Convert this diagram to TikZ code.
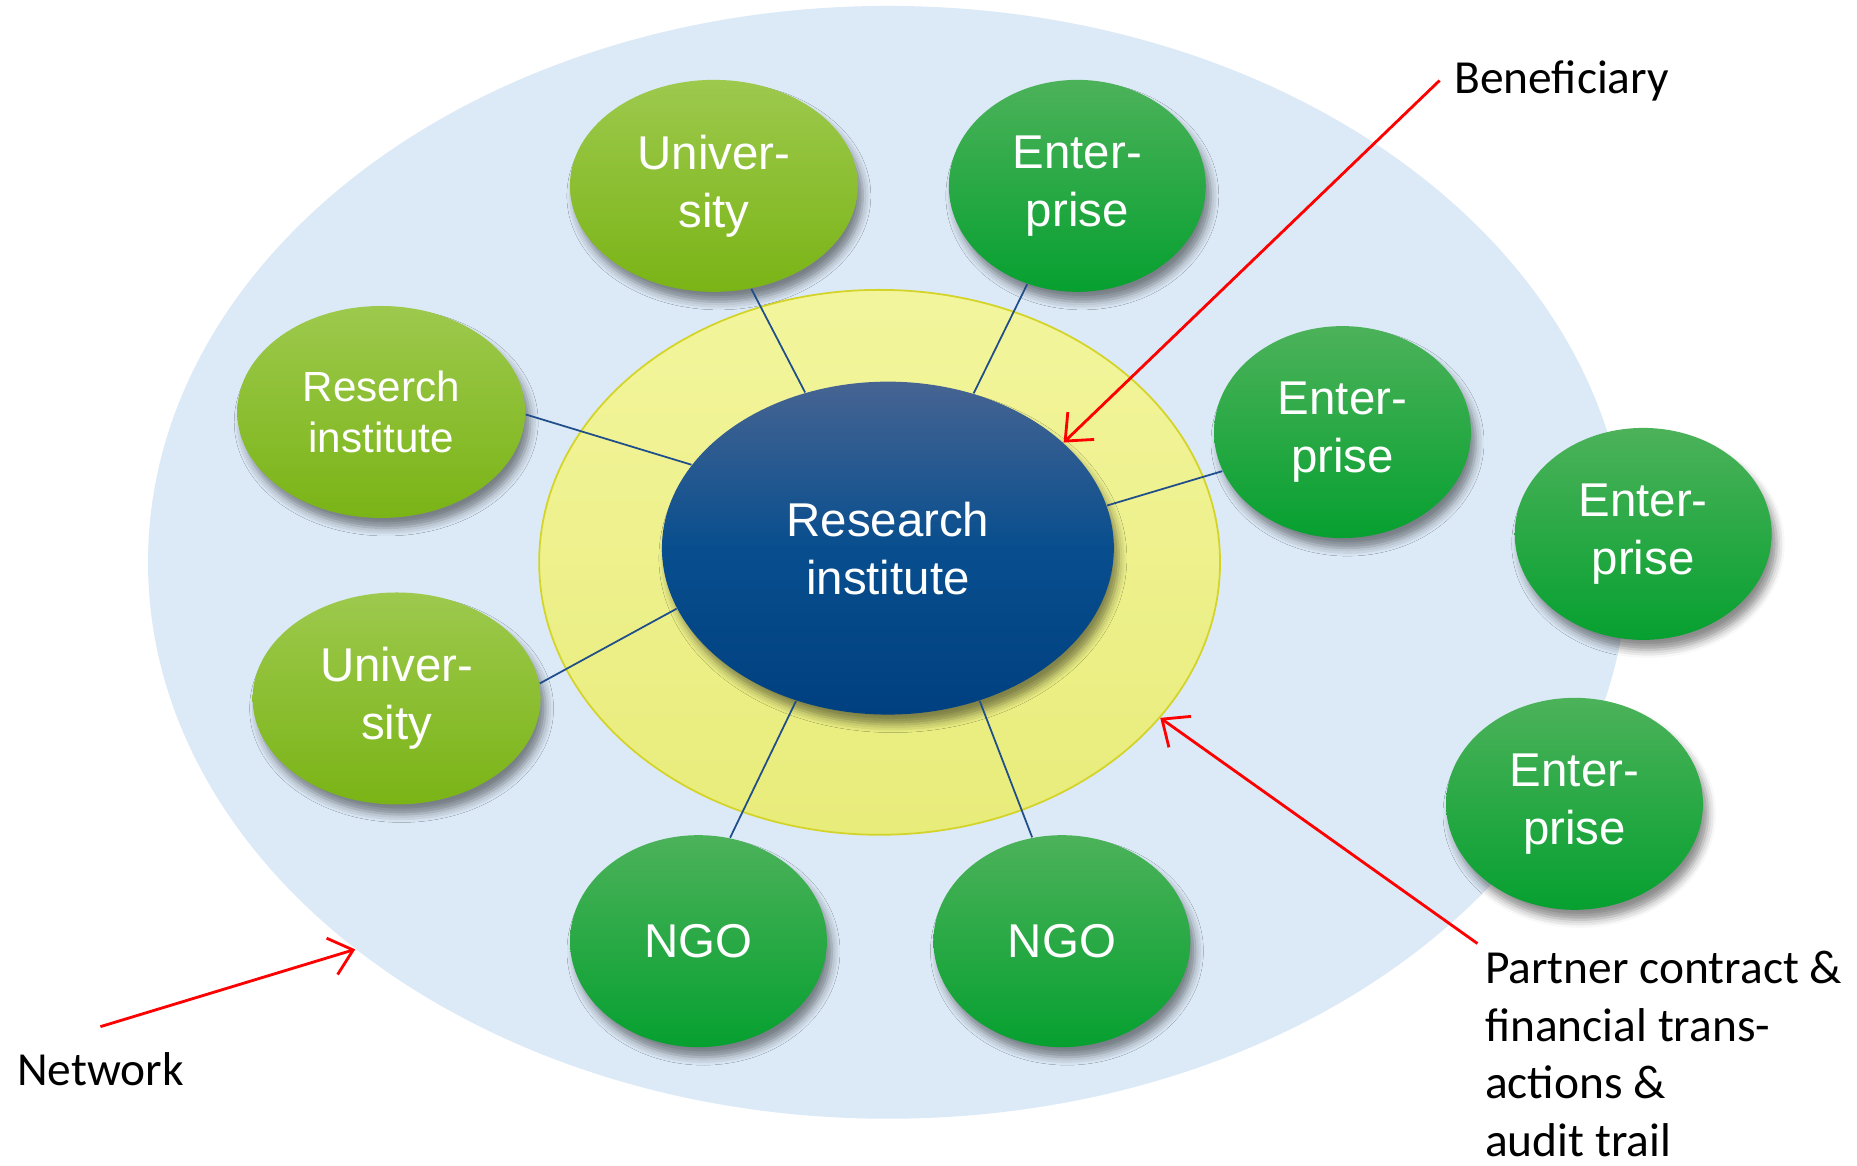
\documentclass[tikz,border=0pt]{standalone}
\usepackage{fontspec}
\setmainfont{Liberation Sans}
\newfontfamily\notefont{Carlito}
\usepackage{tikz}
\usetikzlibrary{shapes.geometric}
\usetikzlibrary{arrows.meta}
\usetikzlibrary{shadows.blur}
\definecolor{netblue}{RGB}{220,233,246}
\definecolor{ringtop}{RGB}{243,245,157}
\definecolor{ringbot}{RGB}{232,236,122}
\definecolor{ringline}{RGB}{212,212,40}
\definecolor{coretop}{RGB}{70,100,146}
\definecolor{coremid}{RGB}{8,78,142}
\definecolor{corebot}{RGB}{0,64,128}
\definecolor{lgtop}{RGB}{157,201,77}
\definecolor{lgbot}{RGB}{122,180,22}
\definecolor{dgtop}{RGB}{76,178,90}
\definecolor{dgbot}{RGB}{6,160,48}
\definecolor{linkblue}{RGB}{31,78,138}
\tikzset{soft/.style={blur shadow={shadow xshift=0.5mm,shadow yshift=-1.0mm,shadow blur radius=0.8mm,shadow opacity=45}}}
\tikzset{party/.style={ellipse,inner sep=0pt,text=white,align=center,font=\fontsize{13.5}{16.5}\selectfont,minimum height=2.12cm,soft}}
\tikzset{lgreen/.style={party,minimum width=2.88cm,top color=lgtop,bottom color=lgbot}}
\tikzset{dgreen/.style={party,minimum width=2.57cm,top color=dgtop,bottom color=dgbot}}
\tikzset{link/.style={draw=linkblue,line width=0.5pt}}
\tikzset{note/.style={inner sep=2pt,font=\notefont\fontsize{13.5}{16.4}\selectfont}}
\tikzset{pointer/.style={draw=red,line width=0.8pt,->,>={Straight Barb[length=2.2mm,width=3.8mm]}}}

\begin{document}
\begin{tikzpicture}[x=0.011839cm,y=-0.011839cm]
    \useasboundingbox (0,0) rectangle (1568.6,984.1);
    \node[ellipse,fill=netblue,minimum width=14.80cm,minimum height=11.13cm,inner sep=0pt] (net) at (750,475) {};
    \node[ellipse,draw=ringline,line width=0.5pt,top color=ringtop,bottom color=ringbot,minimum width=6.81cm,minimum height=5.45cm,inner sep=0pt] (ring) at (743,475) {};
    \node[party,minimum width=4.52cm,minimum height=3.33cm,top color=coretop,bottom color=corebot,middle color=coremid] (ri) at (750,463) {Research\\institute};
    % partners round the beneficiary
    \node[lgreen] (uni1) at (603,157) {Univer-\\sity};
    \node[dgreen] (ent1) at (910,157) {Enter-\\prise};
    \node[lgreen,font=\fontsize{12}{14.5}\selectfont] (rinst) at (322,348) {Reserch\\institute};
    \node[lgreen] (uni2) at (335,590) {Univer-\\sity};
    \node[dgreen] (ngo1) at (590,795) {NGO};
    \node[dgreen] (ngo2) at (897,795) {NGO};
    \node[dgreen] (ent2) at (1134,365) {Enter-\\prise};
    % outside the partner contract
    \node[dgreen] (ent3) at (1388,451) {Enter-\\prise};
    \node[dgreen] (ent4) at (1330,679) {Enter-\\prise};
    \draw[link] (uni1.-70) -- (ri.118.6);
    \draw[link] (ent1.243) -- (ri.61.4);
    \draw[link] (rinst.-1) -- (ri.157.6);
    \draw[link] (uni2.6) -- (ri.196);
    \draw[link] (ngo1.73.7) -- (ri.239);
    \draw[link] (ngo2.106.9) -- (ri.301);
    \draw[link] (ent2.198) -- (ri.11.5);
    % labels
    \node[note,anchor=west,inner sep=4pt] (benef) at (1216,68) {Beneficiary};
    \node[note,anchor=west] (network) at (8,903) {Network};
    \node[note,anchor=north west,align=left] (partner) at (1248,797) {Partner contract \&\\financial trans-\\actions \&\\audit trail};
    \draw[pointer] (benef.west) -- (ri.31.5);
    \draw[pointer] (partner.north west) -- (ring.-29.8);
    \draw[pointer] ([yshift=1.8mm]network.north) -- (net.216.9);
\end{tikzpicture}
\end{document}
